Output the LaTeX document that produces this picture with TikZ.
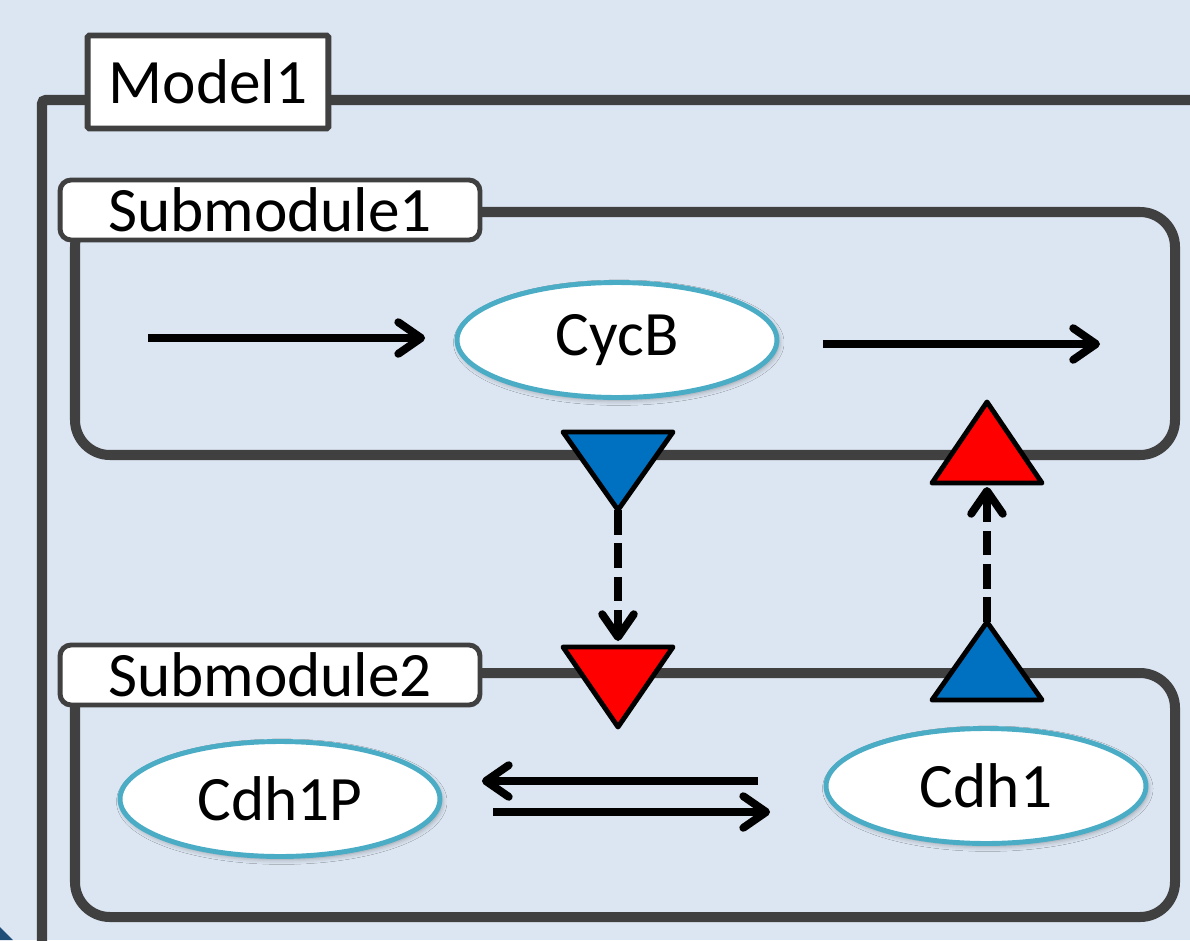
\documentclass[tikz,border=0pt]{standalone}
\usepackage{fontspec}
\setmainfont{Carlito}
\usepackage{xcolor}
\definecolor{cBack}{HTML}{DCE6F2}
\definecolor{cFrame}{HTML}{404040}
\definecolor{cRing}{HTML}{4BACC6}
\definecolor{cBlue}{HTML}{0070C0}
\definecolor{cRed}{HTML}{FF0000}
\definecolor{cDeep}{HTML}{1F4E79}
\usepackage{tikz}
\usetikzlibrary{positioning,arrows.meta,shapes.geometric,shadows.blur}
\tikzset{
  model-frame/.style={draw=cFrame,line width=5.7pt,rounded corners=2pt},
  module-frame/.style={draw=cFrame,line width=5.7pt,rounded corners=0.7cm},
  model-tag/.style={draw=cFrame,fill=white,line width=3.4pt,rounded corners=1pt,
    minimum width=4.82cm,minimum height=1.86cm,inner sep=0pt},
  module-tag/.style={draw=cFrame,fill=white,line width=2.8pt,rounded corners=0.22cm,
    minimum width=8.4cm,minimum height=1.2cm,inner sep=0pt},
  species/.style={ellipse,draw=cRing,fill=white,line width=2.8pt,
    minimum width=6.4cm,minimum height=2.3cm,inner sep=0pt,
    blur shadow={shadow xshift=1pt,shadow yshift=-1.5pt,shadow blur radius=3pt,shadow opacity=35}},
  % ports: blue = output, red = input
  port-blue/.style={draw=black,fill=cBlue,line width=2.8pt,line join=round},
  port-red/.style={draw=black,fill=cRed,line width=2.8pt,line join=round},
  arrow/.style={-{Straight Barb[length=13pt,width=18pt,line cap=round,line join=round]},line width=4.5pt},
  arrow-dash/.style={arrow,dash pattern=on 14pt off 5pt},
}

\begin{document}
\begin{tikzpicture}[x=0.02cm,y=-0.02cm,font=\fontsize{36}{40}\selectfont]
  \fill[cBack] (0,0) rectangle (1190,940);
  \useasboundingbox (0,0) rectangle (1190,940);
  \clip (0,0) rectangle (1190,940);
  \fill[cDeep] (0,927) -- (13,940) -- (0,940) -- cycle;
  % frames
  \draw[model-frame] (42,960) -- (42,100) -- (1220,100);
  \draw[module-frame] (75,212) rectangle (1175,455);
  \draw[module-frame] (75,673) rectangle (1175,917);
  % tags
  \node[model-tag] (model) at (208,82) {Model1};
  \node[module-tag] (sub1) at (270,210) {Submodule1};
  \node[module-tag] (sub2) at (270,675) {Submodule2};
  % species
  \node[species] (cycb) at (617,340) {CycB};
  \node[species] (cdh1p) at (280,799) {Cdh1P};
  \node[species] (cdh1) at (986,786) {Cdh1};
  % ports
  \coordinate (outb) at (618,432);
  \coordinate (outbtip) at (618,510);
  \coordinate (inr) at (618,647);
  \coordinate (inrtop) at (618,641);
  \coordinate (outc) at (987,700);
  \coordinate (outctip) at (987,622);
  \coordinate (inc) at (987,483);
  \coordinate (incbase) at (987,487);
  \path[port-blue] (outb) ++(-55,0) -- ++(110,0) -- ++(-55,78) -- cycle;
  \path[port-red] (inr) ++(-55,0) -- ++(110,0) -- ++(-55,80) -- cycle;
  \path[port-blue] (outc) ++(-55,0) -- ++(110,0) -- ++(-55,-78) -- cycle;
  \path[port-red] (inc) ++(-55,0) -- ++(110,0) -- ++(-55,-81) -- cycle;
  \draw[arrow-dash] (outbtip) -- (inrtop);
  \draw[arrow-dash] (outctip) -- (incbase);
  % reactions
  \coordinate (feed) at (148,338);
  \coordinate (drain) at (1100,344);
  \coordinate (revline) at (600,781);
  \coordinate (fwdline) at (600,812);
  \draw[arrow,shorten >=0.59cm] (feed) -- (cycb.west |- feed);
  \draw[arrow,shorten <=0.87cm] (cycb.east |- drain) -- (drain);
  \draw[arrow,shorten <=1.31cm,shorten >=0.79cm] (cdh1.west |- revline) -- (cdh1p.east |- revline);
  \draw[arrow,shorten <=1.01cm,shorten >=1.07cm] (cdh1p.east |- fwdline) -- (cdh1.west |- fwdline);
\end{tikzpicture}
\end{document}
